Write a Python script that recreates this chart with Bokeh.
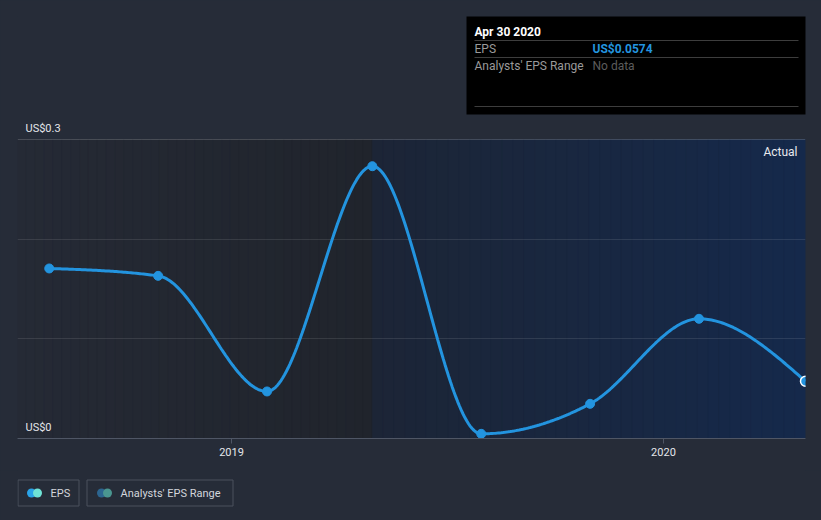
import numpy as np
from datetime import datetime, timezone
from bokeh.plotting import figure
from bokeh.layouts import column
from bokeh.models import Range1d, FixedTicker, Span
from bokeh.core.properties import value
from bokeh.embed import file_html
from bokeh.resources import INLINE

# ---------------- data ----------------
dates = ["2018-07-31", "2018-10-31", "2019-01-31", "2019-04-30",
         "2019-07-31", "2019-10-31", "2020-01-31", "2020-04-30"]
eps = [0.1706, 0.1632, 0.0472, 0.2732, 0.0047, 0.0348, 0.1201, 0.0574]
year_ticks = ["2019-01-01", "2020-01-01"]
year_labels = ["2019", "2020"]
y_ticks = [0.0, 0.3]
y_labels = ["US$0", "US$0.3"]
grid_ticks = [0.1, 0.2]
actual_start = "2019-04-30"
actual_label = "Actual"
tooltip_title = "Apr 30 2020"
tooltip_rows = ["EPS", "Analysts' EPS Range"]
tooltip_vals = ["US$0.0574", "No data"]
legend_labels = ["EPS", "Analysts' EPS Range"]

BG = "#262c38"
BLUE = "#2394df"
FONT = value("Roboto")


def ms(s):
    return datetime.strptime(s, "%Y-%m-%d").replace(tzinfo=timezone.utc).timestamp() * 1000.0


xs = [ms(d) for d in dates]
t2019 = ms(year_ticks[0])

# frame geometry (pixels in the page)
FL, FR, FT, FB = 17, 805, 16, 438
Y03 = 139
x_end = xs[-1]
x_start = t2019 - (231 - FL) / (FR - 231) * (x_end - t2019)
y_top = 0.3 * (FB - FT) / (FB - Y03)


def px2x(px):
    return x_start + (px - FL) * (x_end - x_start) / (FR - FL)


def px2y(py):
    return (FB - py) * y_top / (FB - FT)


def monotone(xv, yv, n=60):
    xv = np.asarray(xv, float)
    yv = np.asarray(yv, float)
    h = np.diff(xv)
    s = np.diff(yv) / h
    m = len(xv)
    t = np.zeros(m)
    for i in range(1, m - 1):
        s0, s1 = s[i - 1], s[i]
        p_ = (s0 * h[i] + s1 * h[i - 1]) / (h[i - 1] + h[i])
        t[i] = (np.sign(s0) + np.sign(s1)) * min(abs(s0), abs(s1), 0.5 * abs(p_))
    t[0] = (3 * s[0] - t[1]) / 2
    t[-1] = (3 * s[-1] - t[-2]) / 2
    ox, oy = [], []
    for i in range(m - 1):
        u = np.linspace(0, 1, n, endpoint=(i == m - 2))
        h00 = 2 * u**3 - 3 * u**2 + 1
        h10 = u**3 - 2 * u**2 + u
        h01 = -2 * u**3 + 3 * u**2
        h11 = u**3 - u**2
        ox.extend(xv[i] + u * h[i])
        oy.extend(h00 * yv[i] + h10 * h[i] * t[i] + h01 * yv[i + 1] + h11 * h[i] * t[i + 1])
    return ox, oy


def lerp_color(c1, c2, f):
    a = [int(c1[i:i + 2], 16) for i in (1, 3, 5)]
    b = [int(c2[i:i + 2], 16) for i in (1, 3, 5)]
    return "#%02x%02x%02x" % tuple(int(round(a[k] + (b[k] - a[k]) * f)) for k in range(3))


# ---------------- main figure ----------------
p = figure(width=821, height=470, output_backend="svg", toolbar_location=None,
           x_range=Range1d(x_start, x_end), y_range=Range1d(0, y_top),
           min_border_left=FL, min_border_right=821 - FR,
           min_border_top=FT, min_border_bottom=470 - FB,
           styles={"background-color": BG})
p.background_fill_color = BG
p.border_fill_color = BG
p.outline_line_color = None
p.xgrid.visible = False
p.yaxis.visible = False
p.ygrid.ticker = FixedTicker(ticks=grid_ticks)
p.ygrid.grid_line_color = "white"
p.ygrid.grid_line_alpha = 0.1

# shaded regions (gradient strips)
xa = ms(actual_start)
N = 40
for (l0, r0, c1, c2) in [(x_start, xa, "#252a35", "#20242c"),
                         (xa, x_end, "#1c2536", "#15294b")]:
    edges = np.linspace(l0, r0, N + 1)
    cols = [lerp_color(c1, c2, (k + 0.5) / N) for k in range(N)]
    r = p.quad(left=edges[:-1], right=edges[1:], bottom=0, top=0.3,
               fill_color=cols, line_color=cols, line_width=0.6)
    r.level = "image"

p.add_layout(Span(location=0.3, dimension="width", line_color="white",
                  line_alpha=0.17, line_width=1))

# x axis
ax = p.xaxis[0]
ax.ticker = FixedTicker(ticks=[ms(t) for t in year_ticks])
ax.major_label_overrides = {ms(t): lab for t, lab in zip(year_ticks, year_labels)}
ax.axis_line_color = "#4f5665"
ax.major_tick_line_color = "#4f5665"
ax.major_tick_in = 0
ax.major_tick_out = 5
ax.minor_tick_line_color = None
ax.major_label_text_color = "#e4e6ea"
ax.major_label_text_font = "Roboto"
ax.major_label_text_font_size = "11px"
ax.major_label_standoff = 4

# y labels
p.text(x=[x_start] * len(y_ticks), y=y_ticks, text=y_labels, x_offset=8, y_offset=-11.5,
       text_font=FONT, text_font_size=value("11px"), text_color="#e4e6ea",
       text_baseline="middle", text_align="left")

# Actual label
p.text(x=[x_end], y=[0.3], text=[actual_label], x_offset=-8, y_offset=12,
       text_font=FONT, text_font_size=value("12px"), text_color="#e8eaee",
       text_baseline="middle", text_align="right")

# EPS line
cx, cy = monotone(xs, eps)
p.line(cx, cy, line_color=BLUE, line_width=3)
p.scatter(xs[:-1], eps[:-1], size=9, fill_color=BLUE, line_color=BLUE)
p.scatter(xs[-1:], eps[-1:], size=10, fill_color=BLUE, line_color="white", line_width=1.5)

# tooltip box
p.quad(left=[px2x(466)], right=[px2x(806)], top=[px2y(15)], bottom=[px2y(114)],
       fill_color="#000000", line_color=None)
p.segment(x0=[px2x(474)] * 3, x1=[px2x(798)] * 3,
          y0=[px2y(v) for v in (40, 57, 106)], y1=[px2y(v) for v in (40, 57, 106)],
          line_color="#3d3d3d", line_width=1)
p.text(x=[px2x(474)], y=[px2y(31)], text=[tooltip_title], text_font=FONT,
       text_font_size=value("12px"), text_font_style="bold", text_color="#ffffff",
       text_baseline="middle")
p.text(x=[px2x(474)] * 2, y=[px2y(48.5), px2y(65)], text=tooltip_rows, text_font=FONT,
       text_font_size=value("12px"), text_color="#9a9a9a", text_baseline="middle")
p.text(x=[px2x(592)], y=[px2y(48.5)], text=tooltip_vals[:1], text_font=FONT,
       text_font_size=value("12px"), text_font_style="bold", text_color=BLUE,
       text_baseline="middle")
p.text(x=[px2x(592)], y=[px2y(65)], text=tooltip_vals[1:], text_font=FONT,
       text_font_size=value("12px"), text_color="#5c5c5c", text_baseline="middle")

# ---------------- legend figure ----------------
# the column aligns this frame with the main frame (page x 17..805)
lg = figure(width=821, height=50, output_backend="svg", toolbar_location=None,
            x_range=Range1d(FL, FR), y_range=Range1d(50, 0),
            x_axis_location=None, y_axis_location=None,
            min_border=0, min_border_left=FL, min_border_right=821 - FR,
            min_border_top=0, min_border_bottom=0,
            styles={"background-color": BG})
lg.background_fill_color = BG
lg.border_fill_color = BG
lg.outline_line_color = None
lg.grid.visible = False
lg.quad(left=[17.5, 86.5], right=[78.5, 232.5], top=[9.5, 9.5], bottom=[35.5, 35.5],
        fill_color=None, line_color="#4a505c", line_width=1)
lg.scatter([31, 101], [22.5, 22.5], size=9, fill_color=["#2aa3e8", "#2c6590"], line_color=None)
lg.scatter([37, 107], [22.5, 22.5], size=9, fill_color=["#6fe3d6", "#4a9690"], line_color=None)
lg.text(x=[50, 120], y=[22.5, 22.5], text=legend_labels, text_font=FONT,
        text_font_size=value("11px"), text_color="#d3d6dc", text_baseline="middle")

layout = column(p, lg, spacing=0, styles={"background-color": BG})
open("out.html", "w").write(file_html(layout, INLINE))
